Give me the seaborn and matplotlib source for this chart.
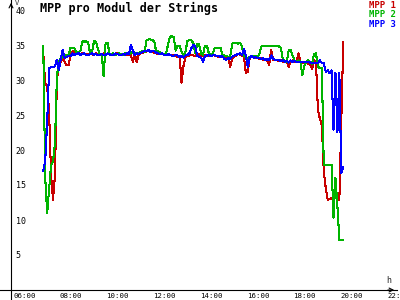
import numpy as np
import pandas as pd
import matplotlib
matplotlib.use("Agg")
import matplotlib.pyplot as plt
import matplotlib.transforms as mtransforms
import seaborn as sns

# ---- data: 5-minute samples from 07:10 to 20:00 ----
start_hour = 7 + 10 / 60
step_min = 5

mpp1 = [33.8, 29.5, 29.0, 25.4, 16.4, 12.9, 16.4, 30.3, 31.7, 32.6,
        33.1, 32.6, 32.1, 32.1, 33.6, 34.0, 34.2, 33.8, 33.7, 33.6,
        33.8, 33.7, 33.6, 33.7, 33.8, 33.7, 33.6, 33.8, 33.7, 33.6,
        33.7, 33.8, 33.6, 33.7, 33.8, 33.7, 33.6, 33.7, 33.8, 33.7,
        33.6, 33.7, 33.8, 33.6, 33.7, 33.5, 32.6, 33.7, 32.5, 33.6,
        33.8, 33.9, 34.0, 34.1, 34.2, 34.0, 34.1, 33.9, 33.8, 33.7,
        33.8, 33.7, 33.6, 33.7, 33.6, 33.5, 33.6, 33.5, 33.4, 33.3,
        33.4, 29.6, 32.0, 33.3, 33.4, 33.5, 33.6, 33.5, 33.4, 33.6,
        33.7, 33.5, 33.4, 33.5, 33.6, 33.5, 33.4, 33.6, 33.5, 33.4,
        33.3, 33.4, 33.3, 33.2, 33.1, 33.0, 31.9, 33.0, 33.3, 33.5,
        33.7, 33.6, 33.5, 33.4, 31.0, 31.2, 33.2, 33.3, 33.2, 33.1,
        33.2, 33.0, 33.1, 32.9, 33.0, 32.8, 32.2, 34.3, 32.8, 32.9,
        32.8, 32.7, 32.8, 32.6, 32.7, 32.6, 31.9, 32.7, 32.8, 32.6,
        32.5, 33.8, 32.6, 32.5, 32.4, 32.5, 32.3, 32.2, 31.6, 32.8,
        32.6, 25.7, 24.5, 23.5, 17.0, 14.6, 12.9, 13.0, 13.1, 13.3,
        13.3, 13.0, 12.9, 24.3, 35.4]

mpp2 = [34.8, 16.0, 11.0, 14.5, 17.8, 18.3, 21.0, 30.5, 32.6, 33.1,
        33.3, 33.6, 33.6, 33.5, 34.6, 34.6, 34.5, 34.0, 34.0, 34.1,
        35.5, 35.5, 35.5, 35.4, 33.9, 33.9, 35.5, 35.5, 34.5, 33.7,
        33.6, 30.5, 35.3, 35.3, 33.8, 33.7, 33.8, 33.6, 33.7, 33.8,
        33.7, 33.6, 33.8, 33.9, 33.7, 33.8, 34.0, 33.9, 33.8, 33.9,
        34.0, 34.1, 34.0, 35.7, 35.8, 35.8, 35.7, 35.5, 34.0, 34.1,
        33.9, 33.8, 33.6, 33.7, 35.0, 36.1, 36.3, 36.1, 34.2, 34.9,
        34.9, 34.0, 33.6, 34.0, 35.6, 35.7, 35.7, 35.3, 33.9, 35.1,
        35.1, 33.8, 33.6, 34.9, 34.9, 33.8, 33.6, 33.8, 34.6, 34.6,
        34.6, 34.6, 33.6, 33.5, 33.4, 33.3, 33.4, 35.2, 35.3, 35.3,
        35.2, 35.3, 34.8, 33.4, 33.2, 33.0, 33.3, 33.5, 33.3, 33.4,
        33.2, 33.8, 34.8, 34.9, 34.8, 34.8, 34.9, 34.8, 34.8, 34.9,
        34.8, 34.8, 34.6, 32.9, 32.7, 32.6, 34.3, 34.3, 33.5, 32.8,
        32.7, 32.8, 32.6, 30.7, 32.0, 32.6, 32.8, 32.6, 32.3, 33.7,
        33.8, 31.9, 31.7, 31.7, 17.9, 17.9, 17.9, 17.9, 17.9, 10.3,
        16.0, 12.0, 7.1, 7.1, 7.1]

mpp3 = [17.0, 18.5, 24.0, 31.7, 31.8, 31.8, 32.0, 32.9, 31.4, 33.1,
        34.3, 33.1, 33.3, 33.5, 33.4, 33.8, 33.6, 33.7, 33.9, 33.6,
        33.7, 33.8, 33.6, 33.5, 33.7, 33.8, 33.6, 33.7, 33.5, 33.6,
        33.7, 33.5, 33.6, 33.8, 33.7, 33.5, 33.6, 33.8, 33.7, 33.6,
        33.5, 33.7, 33.6, 33.8, 33.7, 35.0, 34.2, 33.6, 33.8, 33.7,
        33.9, 34.0, 34.2, 34.1, 34.3, 34.0, 34.2, 34.1, 33.9, 33.8,
        33.7, 33.8, 33.6, 33.5, 33.7, 33.6, 33.5, 33.4, 33.6, 33.5,
        33.3, 33.4, 33.2, 33.5, 33.6, 33.8, 34.5, 35.0, 34.8, 33.5,
        33.3, 33.2, 32.6, 33.4, 33.5, 33.6, 33.4, 33.5, 33.6, 33.4,
        33.5, 33.3, 33.4, 33.0, 32.9, 33.1, 33.0, 33.3, 33.5, 33.6,
        33.7, 33.8, 33.6, 34.4, 33.5, 31.9, 33.3, 33.4, 33.2, 33.3,
        33.1, 33.2, 33.0, 33.1, 32.9, 33.0, 32.8, 33.5, 33.0, 32.9,
        32.8, 32.9, 32.7, 32.8, 32.6, 32.7, 32.5, 32.8, 32.6, 32.7,
        32.6, 32.5, 32.6, 32.6, 32.6, 32.5, 32.6, 32.5, 32.4, 32.5,
        32.4, 32.4, 32.8, 32.4, 32.4, 31.2, 31.4, 31.0, 31.4, 22.9,
        31.0, 22.5, 31.0, 16.7, 17.6]

series_names = ["MPP 1", "MPP 2", "MPP 3"]
series_colors = ["#c80000", "#00b400", "#0000ff"]
yticks = [5, 10, 15, 20, 25, 30, 35, 40]
xticks = [6, 8, 10, 12, 14, 16, 18, 20, 22]
xticklabels = ["06:00", "08:00", "10:00", "12:00", "14:00", "16:00", "18:00", "20:00", "22:00"]
title = "MPP pro Modul der Strings"

hours = start_hour + np.arange(len(mpp1)) * step_min / 60
df = pd.concat([
    pd.DataFrame({"t": hours, "v": vals, "s": name})
    for name, vals in zip(series_names, [mpp1, mpp2, mpp3])
])

sns.set_style("white")
plt.rcParams["font.family"] = ["DejaVu Sans Mono"]

W, H = 400, 300
fig = plt.figure(figsize=(4, 3), dpi=100)
ax = fig.add_axes([0, 0, 397 / W, 1])
ax.set_facecolor("white")

sns.lineplot(data=df, x="t", y="v", hue="s", palette=series_colors,
             linewidth=0.75, ax=ax, legend=True, antialiased=False)

# pixel mapping: x = 16 + 23.375*(t-6), y = 290 - 7*v
ax.set_xlim(6 - 16 / 23.375, 6 + (397 - 16) / 23.375)
ax.set_ylim(-10 / 7, 290 / 7)

for s in ["top", "right"]:
    ax.spines[s].set_visible(False)
ax.spines["left"].set_position(("data", 6 - 5 / 23.375))
ax.spines["bottom"].set_position(("data", 0))
for s in ["left", "bottom"]:
    ax.spines[s].set_color("black")
    ax.spines[s].set_linewidth(0.8)

ax.set_xticks(xticks)
ax.set_xticklabels(xticklabels)
ax.set_yticks(yticks)
ax.set_yticklabels([str(v) for v in yticks])
ax.tick_params(axis="both", direction="inout", length=4.5, width=0.8,
               color="black", labelsize=6, labelcolor="black")
ax.tick_params(axis="y", pad=-5.5)
ax.tick_params(axis="x", pad=0.2, labelsize=5.3)
for lab in ax.get_yticklabels():
    lab.set_horizontalalignment("left")
off = mtransforms.ScaledTranslation(-3 / 100, 0, fig.dpi_scale_trans)
for lab in ax.get_xticklabels():
    lab.set_horizontalalignment("left")
    lab.set_transform(lab.get_transform() + off)
ax.set_xlabel("")
ax.set_ylabel("")

# axis arrows
ax.annotate("", xy=(1.0, 0), xytext=(0.97, 0), xycoords=("axes fraction", "data"),
            arrowprops=dict(arrowstyle="->", color="black", lw=0.8, mutation_scale=7))
ax.annotate("", xy=(6 - 5 / 23.375, 1.0), xytext=(6 - 5 / 23.375, 0.97),
            xycoords=("data", "axes fraction"),
            arrowprops=dict(arrowstyle="->", color="black", lw=0.8, mutation_scale=7))

fig.text(15 / W, 1 - 0 / H, "V", fontsize=5, va="top", ha="left")
fig.text(386 / W, 1 - 276 / H, "h", fontsize=6, va="top", ha="left")
fig.text(40 / W, 1 - 2 / H, title, fontsize=8.5, fontweight="bold",
         va="top", ha="left", color="black")

leg = ax.legend(loc="upper right", bbox_to_anchor=(1.0, 1.0), frameon=False,
                handlelength=0, handletextpad=0, labelspacing=0.05,
                borderaxespad=0.1, borderpad=0,
                labelcolor="linecolor", prop={"weight": "bold", "size": 6.5})
for h in leg.legend_handles:
    h.set_visible(False)

fig.savefig("out.png", dpi=100)
